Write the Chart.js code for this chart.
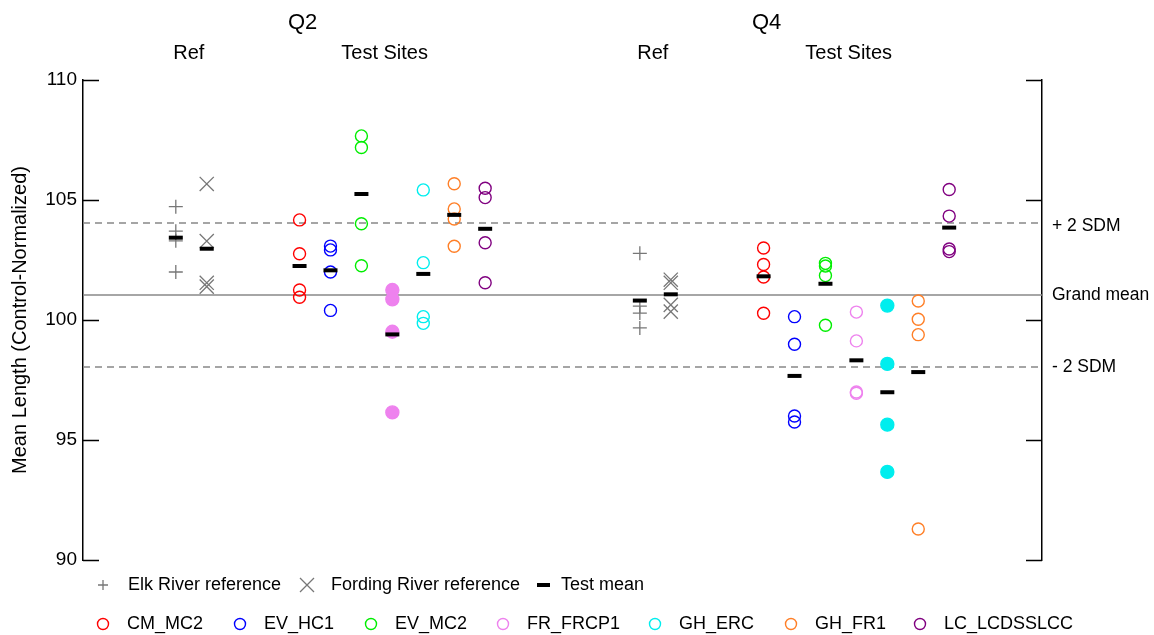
<!DOCTYPE html>
<html>
<head>
<meta charset="utf-8">
<script src="https://cdn.jsdelivr.net/npm/chart.js@4"></script>
<style>
  body { margin: 0; background: #fff; }
  #wrap { width: 1154px; height: 635px; position: relative; }
</style>
</head>
<body>
<div id="wrap"><canvas id="grafico"></canvas></div>
<script>
// --- data ---
var sites = ['CM_MC2', 'EV_HC1', 'EV_MC2', 'FR_FRCP1', 'GH_ERC', 'GH_FR1', 'LC_LCDSSLCC'];
var siteColors = ['#ff0000', '#0000ff', '#00ee00', '#ee82ee', '#00eeee', '#ff7f27', '#800080'];

var elkQ2 = [104.72, 103.70, 103.30, 102.00];
var fordingQ2 = [105.67, 103.29, 101.55, 101.39];
var refMeansQ2 = [103.43, 102.97];
var sitesQ2 = [
    [104.17, 102.76, 101.25, 100.95],
    [103.08, 102.92, 102.00, 100.40],
    [107.67, 107.19, 104.01, 102.26],
    [101.25, 100.86, 99.51, 96.15],
    [105.42, 102.39, 100.14, 99.86],
    [105.68, 104.63, 104.21, 103.07],
    [105.49, 105.10, 103.22, 101.55]
];
var siteMeansQ2 = [102.25, 102.07, 105.25, 99.40, 101.92, 104.38, 103.80];
var filledQ2 = ['FR_FRCP1'];

var elkQ4 = [102.78, 100.58, 100.29, 99.67];
var fordingQ4 = [101.68, 101.55, 100.63, 100.35];
var refMeansQ4 = [100.81, 101.07];
var sitesQ4 = [
    [103.00, 102.31, 101.79, 100.28],
    [100.14, 98.99, 96.00, 95.75],
    [102.36, 102.25, 101.85, 99.78],
    [100.33, 99.13, 97.00, 96.95],
    [100.60, 98.17, 95.64, 93.67],
    [100.79, 100.03, 99.39, 91.29],
    [105.44, 104.33, 102.96, 102.85]
];
var siteMeansQ4 = [101.82, 97.67, 101.51, 98.32, 96.99, 97.83, 103.85];
var filledQ4 = ['GH_ERC'];

var refLineValues = [104.04, 101.04, 98.04];
var refLineLabels = ['+ 2 SDM', 'Grand mean', '- 2 SDM'];
var yTicks = [90, 95, 100, 105, 110];

// --- layout (slot positions along the hidden x scale) ---
var X_MIN = -3, X_MAX = 28;
var Q4_OFFSET = 15;
var FONT = '"Liberation Sans", Arial, sans-serif';
var GREY = '#777777';

function quarterDatasets(off, elk, fording, refMeans, siteVals, siteMeans, filled) {
    var ds = [];
    ds.push({
        data: elk.map(function (v) { return { x: 0 + off, y: v }; }),
        pointStyle: 'cross', pointRadius: 7, borderColor: GREY, borderWidth: 1.3, order: 1
    });
    ds.push({
        data: fording.map(function (v) { return { x: 1 + off, y: v }; }),
        pointStyle: 'crossRot', pointRadius: 10, borderColor: GREY, borderWidth: 1.3, order: 1
    });
    siteVals.forEach(function (vals, i) {
        var isFilled = filled.indexOf(sites[i]) >= 0;
        ds.push({
            data: vals.map(function (v) { return { x: 4 + i + off, y: v }; }),
            pointStyle: 'circle',
            pointRadius: isFilled ? 6.5 : 6,
            borderColor: siteColors[i],
            backgroundColor: isFilled ? siteColors[i] : 'rgba(0,0,0,0)',
            borderWidth: 1.4,
            order: 1
        });
    });
    var meanPts = refMeans.map(function (v, i) { return { x: i + off, y: v }; })
        .concat(siteMeans.map(function (v, i) { return { x: 4 + i + off, y: v }; }));
    ds.push({
        data: meanPts, pointStyle: 'line', pointRadius: 7, borderColor: '#000', borderWidth: 4, order: 0
    });
    return ds;
}

var datasets = [];
refLineValues.forEach(function (v, i) {
    datasets.push({
        type: 'line',
        data: [{ x: X_MIN, y: v }, { x: X_MAX, y: v }],
        showLine: true, pointRadius: 0, borderWidth: 1.5,
        borderColor: '#888888',
        borderDash: i === 1 ? [] : [7, 5],
        order: 5
    });
});
datasets = datasets
    .concat(quarterDatasets(0, elkQ2, fordingQ2, refMeansQ2, sitesQ2, siteMeansQ2, filledQ2))
    .concat(quarterDatasets(Q4_OFFSET, elkQ4, fordingQ4, refMeansQ4, sitesQ4, siteMeansQ4, filledQ4));

// ticks pointing into the plot, headers, right-hand labels, legend
var extras = {
    id: 'extras',
    afterDraw: function (chart) {
        var ctx = chart.ctx, a = chart.chartArea;
        var ys = chart.scales.y, xs = chart.scales.x;
        ctx.save();
        ctx.strokeStyle = '#000';
        ctx.lineWidth = 1.5;
        yTicks.forEach(function (t) {
            var p = Math.round(ys.getPixelForValue(t)) + 0.5;
            ctx.beginPath();
            ctx.moveTo(a.left, p); ctx.lineTo(a.left + 16, p);
            ctx.moveTo(a.right - 16, p); ctx.lineTo(a.right, p);
            ctx.stroke();
        });

        ctx.fillStyle = '#000';
        ctx.textAlign = 'center';
        ctx.textBaseline = 'middle';
        ctx.font = '22px ' + FONT;
        ctx.fillText('Q2', xs.getPixelForValue(4.1), 23);
        ctx.fillText('Q4', xs.getPixelForValue(4.1 + Q4_OFFSET), 23);
        ctx.font = '20px ' + FONT;
        [0, Q4_OFFSET].forEach(function (off) {
            ctx.fillText('Ref', xs.getPixelForValue(0.42 + off), 53);
            ctx.fillText('Test Sites', xs.getPixelForValue(6.75 + off), 53);
        });

        ctx.textAlign = 'left';
        ctx.font = '17.5px ' + FONT;
        refLineValues.forEach(function (v, i) {
            ctx.fillText(refLineLabels[i], a.right + 10, ys.getPixelForValue(v) + (i === 0 ? 3 : 0));
        });

        // legend
        ctx.font = '18px ' + FONT;
        var row1 = 585, row2 = 624;
        ctx.strokeStyle = GREY;
        ctx.lineWidth = 1.3;
        ctx.beginPath();
        ctx.moveTo(98, row1); ctx.lineTo(108, row1);
        ctx.moveTo(103, row1 - 5); ctx.lineTo(103, row1 + 5);
        ctx.moveTo(300, row1 - 7); ctx.lineTo(314, row1 + 7);
        ctx.moveTo(300, row1 + 7); ctx.lineTo(314, row1 - 7);
        ctx.stroke();
        ctx.strokeStyle = '#000';
        ctx.lineWidth = 4;
        ctx.beginPath();
        ctx.moveTo(537, row1); ctx.lineTo(550, row1);
        ctx.stroke();
        ctx.fillText('Elk River reference', 128, row1);
        ctx.fillText('Fording River reference', 331, row1);
        ctx.fillText('Test mean', 561, row1);

        var legX = [103, 240, 371, 503, 655, 791, 920];
        sites.forEach(function (s, i) {
            ctx.strokeStyle = siteColors[i];
            ctx.lineWidth = 1.4;
            ctx.beginPath();
            ctx.arc(legX[i], row2, 5.5, 0, Math.PI * 2);
            ctx.stroke();
            ctx.fillText(s, legX[i] + 24, row2);
        });
        ctx.restore();
    }
};

function loadChartMeanLength() {
    Chart.defaults.font.family = FONT;
    Chart.defaults.color = '#000';
    var grafico = document.getElementById('grafico').getContext('2d');
    window.myScatter = new Chart(grafico, {
        type: 'scatter',
        data: { datasets: datasets },
        options: {
            responsive: true,
            maintainAspectRatio: false,
            animation: false,
            events: [],
            layout: { padding: { top: 80, bottom: 75, left: 0, right: 0 } },
            plugins: { legend: { display: false }, tooltip: { enabled: false } },
            scales: {
                x: { type: 'linear', min: X_MIN, max: X_MAX, display: false },
                y: {
                    position: 'left', min: 90, max: 110,
                    afterBuildTicks: function (s) { s.ticks = yTicks.map(function (v) { return { value: v }; }); },
                    afterFit: function (s) { s.width = 83; },
                    ticks: { font: { size: 19 }, color: '#000', padding: 6 },
                    grid: { display: false, drawTicks: false },
                    border: { display: true, color: '#000', width: 1.5 },
                    title: {
                        display: true, text: 'Mean Length (Control-Normalized)',
                        font: { size: 20 }, color: '#000', padding: { top: 8, bottom: 0 }
                    }
                },
                y2: {
                    position: 'right', min: 90, max: 110,
                    afterFit: function (s) { s.width = 112; },
                    ticks: { display: false },
                    grid: { display: false, drawTicks: false },
                    border: { display: true, color: '#000', width: 1.5 }
                }
            }
        },
        plugins: [extras]
    });
}

loadChartMeanLength();
</script>
</body>
</html>
